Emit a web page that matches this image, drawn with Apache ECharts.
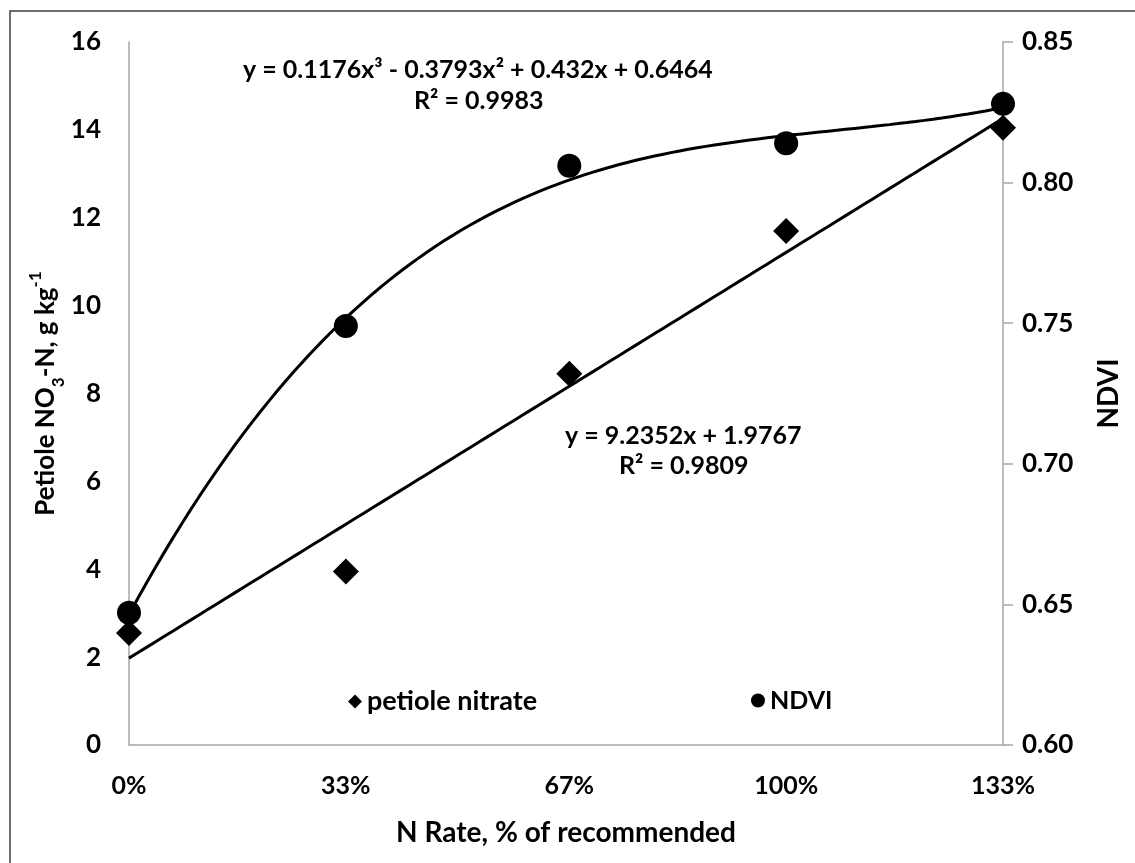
<!DOCTYPE html>
<html>
<head>
<meta charset="utf-8">
<script src="https://cdn.jsdelivr.net/npm/echarts@6/dist/echarts.min.js"></script>
<style>html,body{margin:0;padding:0;background:#fff}#c{width:1135px;height:863px}</style>
</head>
<body>
<div id="c"></div>
<script>
// N rate as fraction of recommended (x values used by the fitted trendlines)
const nRate = [0, 0.33, 0.67, 1.00, 1.33];
const rateLabels = ['0%', '33%', '67%', '100%', '133%'];
const petioleNitrate = [2.55, 3.95, 8.45, 11.7, 14.05];
const ndvi = [0.647, 0.749, 0.806, 0.814, 0.828];
const leftTicks = [0, 16, 2];
const rightTicks = [0.60, 0.85, 0.05];
// trendline coefficients as printed on the chart
const linearFit = [9.2352, 1.9767];               // slope, intercept
const cubicFit = [0.1176, -0.3793, 0.432, 0.6464]; // x^3, x^2, x, const

const FONT = 'Lato';
const nitratePts = nRate.map((x, i) => [x, petioleNitrate[i]]);
const ndviPts = nRate.map((x, i) => [x, ndvi[i]]);
const linLine = [], cubLine = [];
for (let k = 0; k <= 100; k++) {
  const x = nRate[nRate.length - 1] * k / 100;
  linLine.push([x, linearFit[0] * x + linearFit[1]]);
  cubLine.push([x, ((cubicFit[0] * x + cubicFit[1]) * x + cubicFit[2]) * x + cubicFit[3]]);
}

const chart = echarts.init(document.getElementById('c'));
const txt = { fontFamily: FONT, fontWeight: 'bold', color: '#000' };
chart.setOption({
  animation: false,
  backgroundColor: '#fff',
  grid: { left: 129, right: 132, top: 42, bottom: 118 },
  legend: [
    { data: [{ name: 'petiole nitrate', icon: 'diamond' }], left: 343, top: 683, itemWidth: 14, itemHeight: 14, itemGap: 6,
      textStyle: { ...txt, fontSize: 27 } },
    { data: [{ name: 'NDVI', icon: 'circle' }], left: 746, top: 683, itemWidth: 14, itemHeight: 14,
      textStyle: { ...txt, fontSize: 25 } }
  ],
  xAxis: {
    type: 'value', min: 0, max: nRate[nRate.length - 1],
    name: 'N Rate, % of recommended', nameLocation: 'middle', nameGap: 74,
    nameTextStyle: { ...txt, fontSize: 28 },
    axisLine: { show: true, onZero: false, lineStyle: { color: '#a6a6a6', width: 1.5 } },
    axisTick: { show: false },
    splitLine: { show: false },
    axisLabel: {
      customValues: nRate, margin: 28, ...txt, fontSize: 25,
      formatter: v => rateLabels[nRate.indexOf(v)] ?? ''
    }
  },
  yAxis: [
    {
      type: 'value', min: leftTicks[0], max: leftTicks[1], interval: leftTicks[2],
      name: 'Petiole NO{sub|3}-N, g kg{sup|-1}', nameLocation: 'middle', nameGap: 70, nameMoveOverlap: false,
      nameTextStyle: { ...txt, fontSize: 26,
        rich: { sub: { ...txt, fontSize: 17, verticalAlign: 'bottom', padding: [0, 0, -8, 0] },
                sup: { ...txt, fontSize: 17, verticalAlign: 'top', padding: [-6, 0, 0, 0] } } },
      axisLine: { show: true, lineStyle: { color: '#a6a6a6', width: 1.5 } },
      axisTick: { show: false },
      splitLine: { show: false },
      axisLabel: { ...txt, fontSize: 26, margin: 28 }
    },
    {
      type: 'value', min: rightTicks[0], max: rightTicks[1], interval: rightTicks[2],
      name: 'NDVI', nameLocation: 'middle', nameGap: 92, nameRotate: 90,
      nameTextStyle: { ...txt, fontSize: 28 },
      axisLine: { show: true, lineStyle: { color: '#a6a6a6', width: 1.5 } },
      axisTick: { show: true, length: 10, lineStyle: { color: '#a6a6a6', width: 1.5 } },
      splitLine: { show: false },
      axisLabel: { ...txt, fontSize: 26, margin: 19, formatter: v => v.toFixed(2) }
    }
  ],
  series: [
    { name: 'linear fit', type: 'line', yAxisIndex: 0, data: linLine, showSymbol: false, symbol: 'none',
      lineStyle: { color: '#000', width: 3 }, z: 2, silent: true },
    { name: 'cubic fit', type: 'line', yAxisIndex: 1, data: cubLine, showSymbol: false, symbol: 'none',
      lineStyle: { color: '#000', width: 3 }, z: 2, silent: true },
    { name: 'petiole nitrate', type: 'scatter', yAxisIndex: 0, data: nitratePts, symbol: 'diamond',
      symbolSize: 26, itemStyle: { color: '#000', opacity: 1 }, z: 3 },
    { name: 'NDVI', type: 'scatter', yAxisIndex: 1, data: ndviPts, symbol: 'circle',
      symbolSize: 24, itemStyle: { color: '#000', opacity: 1 }, z: 4 }
  ],
  graphic: [
    { type: 'rect', shape: { x: 10, y: 11, width: 1200, height: 900 }, style: { fill: 'none', stroke: '#404040', lineWidth: 1.5 }, silent: true, z: 0 },
    { type: 'text', left: 243, top: 57, style: { text: 'y = 0.1176x³ - 0.3793x² + 0.432x + 0.6464', font: 'bold 25px Lato', fill: '#000' } },
    { type: 'text', left: 414, top: 88, style: { text: 'R² = 0.9983', font: 'bold 25px Lato', fill: '#000' } },
    { type: 'text', left: 565, top: 423, style: { text: 'y = 9.2352x + 1.9767', font: 'bold 25px Lato', fill: '#000' } },
    { type: 'text', left: 619, top: 453, style: { text: 'R² = 0.9809', font: 'bold 25px Lato', fill: '#000' } }
  ]
});
</script>
</body>
</html>
